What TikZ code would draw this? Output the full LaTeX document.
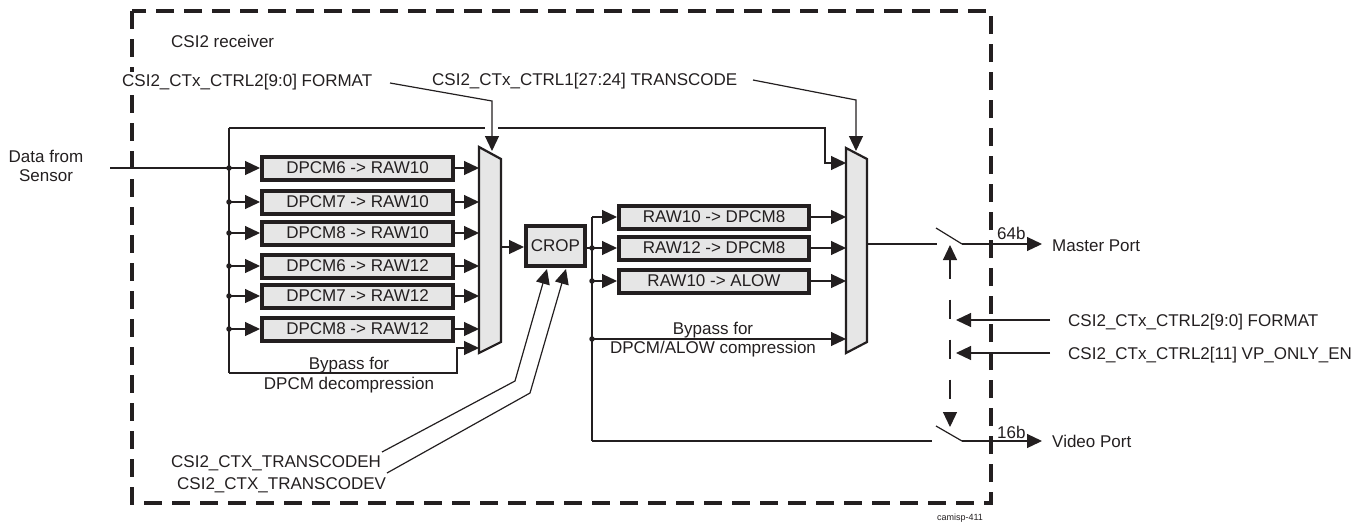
\documentclass[tikz,border=0pt]{standalone}
\usepackage{fontspec}
\setmainfont{Liberation Sans}
\usetikzlibrary{arrows.meta,calc}
\definecolor{ink}{HTML}{231F20}
\definecolor{boxgray}{HTML}{E6E6E6}
\begin{document}
\begin{tikzpicture}[x=1pt,y=-1pt,
  every node/.style={font=\fontsize{17}{20}\selectfont, text=ink, inner sep=0pt},
  blk/.style={draw=ink, line width=4pt, fill=boxgray, minimum width=191pt, minimum height=23pt},
  rblk/.style={blk, minimum width=190pt},
  cropbox/.style={blk, minimum width=59pt, minimum height=40pt},
  wire/.style={draw=ink, line width=1.2pt},
  arr/.style={wire, -{Triangle[length=15pt,width=14pt]}},
  darr/.style={wire, {Triangle[length=15pt,width=14pt]}-{Triangle[length=15pt,width=14pt]}, dash pattern=on 19pt off 21pt},
  jdot/.style={fill=ink, circle, inner sep=0pt, minimum size=5.5pt},
  lbl/.style={anchor=base west},
  clbl/.style={anchor=base},
  mux/.style={draw=ink, line width=2.2pt, fill=boxgray, line join=miter},
  border/.style={draw=ink, line width=3.2pt, dash pattern=on 18pt off 10pt},
]
\useasboundingbox (0,0) rectangle (1364,523);

% outer dashed frame
\draw[border] (132,11) rectangle (991,503);
\node[lbl] (title) at (171,47) {CSI2 receiver};
\node[font=\fontsize{9}{10}\selectfont, anchor=base] (tag) at (960,520) {camisp-411};

% multiplexers
\draw[mux] (479,147) coordinate (m1tl) -- (501,159) coordinate (m1tr) -- (501,342) coordinate (m1br) -- (479,353) coordinate (m1bl) -- cycle;
\draw[mux] (846,148) coordinate (m2tl) -- (867,159) coordinate (m2tr) -- (867,342) coordinate (m2br) -- (846,353) coordinate (m2bl) -- cycle;

% left decompression blocks
\node[blk] (d1) at (357.5,168) {DPCM6 -> RAW10};
\node[blk] (d2) at (357.5,202) {DPCM7 -> RAW10};
\node[blk] (d3) at (357.5,233) {DPCM8 -> RAW10};
\node[blk] (d4) at (357.5,266) {DPCM6 -> RAW12};
\node[blk] (d5) at (357.5,296) {DPCM7 -> RAW12};
\node[blk] (d6) at (357.5,329) {DPCM8 -> RAW12};

% crop
\node[cropbox] (crop) at (555.5,246) {CROP};

% right compression blocks
\node[rblk] (c1) at (714,217) {RAW10 -> DPCM8};
\node[rblk] (c2) at (714,248) {RAW12 -> DPCM8};
\node[rblk] (c3) at (714,281) {RAW10 -> ALOW};

% input
\node[clbl] (din1) at (46,162) {Data from};
\node[clbl] (din2) at (46,181) {Sensor};
\coordinate (dinw) at (110,168);
\coordinate (bustop) at (229,128);
\coordinate (busbot) at (229,373);
\node[jdot] (j1) at (229,168) {};
\node[jdot] (j2) at (229,202) {};
\node[jdot] (j3) at (229,233) {};
\node[jdot] (j4) at (229,266) {};
\node[jdot] (j5) at (229,296) {};
\node[jdot] (j6) at (229,329) {};
\draw[wire] (dinw) -- (j1.center);
\draw[wire] (bustop) -- (busbot);
\foreach \j/\d in {j1/d1,j2/d2,j3/d3,j4/d4,j5/d5,j6/d6}{
  \draw[arr] (\j.center) -- (\d.west);
  \draw[arr] (\d.east) -- (\d.east -| m1tl);
}
% bypass for decompression
\draw[arr] (busbot) -- (457,373) -- (457,348) -- (479,348);
\node[clbl] (bp1a) at (349,369) {Bypass for};
\node[clbl] (bp1b) at (349,389) {DPCM decompression};

% top bypass to second mux (with crossing gap)
\draw[wire] (bustop) -- (485,128);
\draw[arr] (498,128) -- (825,128) -- (825,163) -- (846,163);

% FORMAT select for mux 1
\node[lbl, fill=white, inner ysep=2pt] (fmt1) at (122,86) {CSI2\_CTx\_CTRL2[9:0] FORMAT};
\draw[arr] (390,83) -- (492,101) -- (492,151);
% TRANSCODE select for mux 2
\node[lbl] (tc) at (432,85) {CSI2\_CTx\_CTRL1[27:24] TRANSCODE};
\draw[arr] (753,80) -- (856,100) -- (856,151);

% mux1 -> crop
\draw[arr] (501,247) -- (crop.west |- 0,247);

% crop controls
\node[lbl] (tch) at (171,467) {CSI2\_CTX\_TRANSCODEH};
\node[lbl] (tcv) at (177,489) {CSI2\_CTX\_TRANSCODEV};
\draw[arr] (382,452) -- (515,381) -- (547,269);
\draw[arr] (387,473) -- (530,393) -- (566,269);

% right bus
\node[jdot] (k2) at (592,248) {};
\node[jdot] (k3) at (592,281) {};
\node[jdot] (k4) at (592,339) {};
\draw[wire] (crop.east |- 0,248) -- (k2.center);
\draw[wire] (592,217) -- (592,441);
\draw[arr] (592,217) -- (c1.west);
\draw[arr] (k2.center) -- (c2.west);
\draw[arr] (k3.center) -- (c3.west);
\foreach \c in {c1,c2,c3}{
  \draw[arr] (\c.east) -- (\c.east -| m2tl);
}
\draw[arr] (k4.center) -- (846,339);
\node[clbl] (bp2a) at (713,334) {Bypass for};
\node[clbl] (bp2b) at (713,353) {DPCM/ALOW compression};

% master port switch
\coordinate (sw1a) at (937,244);
\draw[wire] (867,244) -- (sw1a);
\draw[wire] (936,228) -- (962,244) coordinate (sw1b);
\coordinate (mp) at (1042,244);
\draw[arr] (sw1b) -- (mp);
\node[lbl] (b64) at (997,239) {64b};
\node[lbl] (mport) at (1052,251) {Master Port};

% video port switch
\coordinate (sw2a) at (932,441);
\draw[wire] (592,441) -- (sw2a);
\draw[wire] (936,426) -- (962,441) coordinate (sw2b);
\coordinate (vp) at (1042,441);
\draw[arr] (sw2b) -- (vp);
\node[lbl] (b16) at (997,438) {16b};
\node[lbl] (vport) at (1052,447) {Video Port};

% switch control
\draw[darr] (950,245) -- (950,427);
\draw[arr] (1050,320) -- (956,320);
\draw[arr] (1050,353) -- (956,353);
\node[lbl] (fmt2) at (1068,326) {CSI2\_CTx\_CTRL2[9:0] FORMAT};
\node[lbl] (vpo) at (1068,359) {CSI2\_CTx\_CTRL2[11] VP\_ONLY\_EN};
\end{tikzpicture}
\end{document}
